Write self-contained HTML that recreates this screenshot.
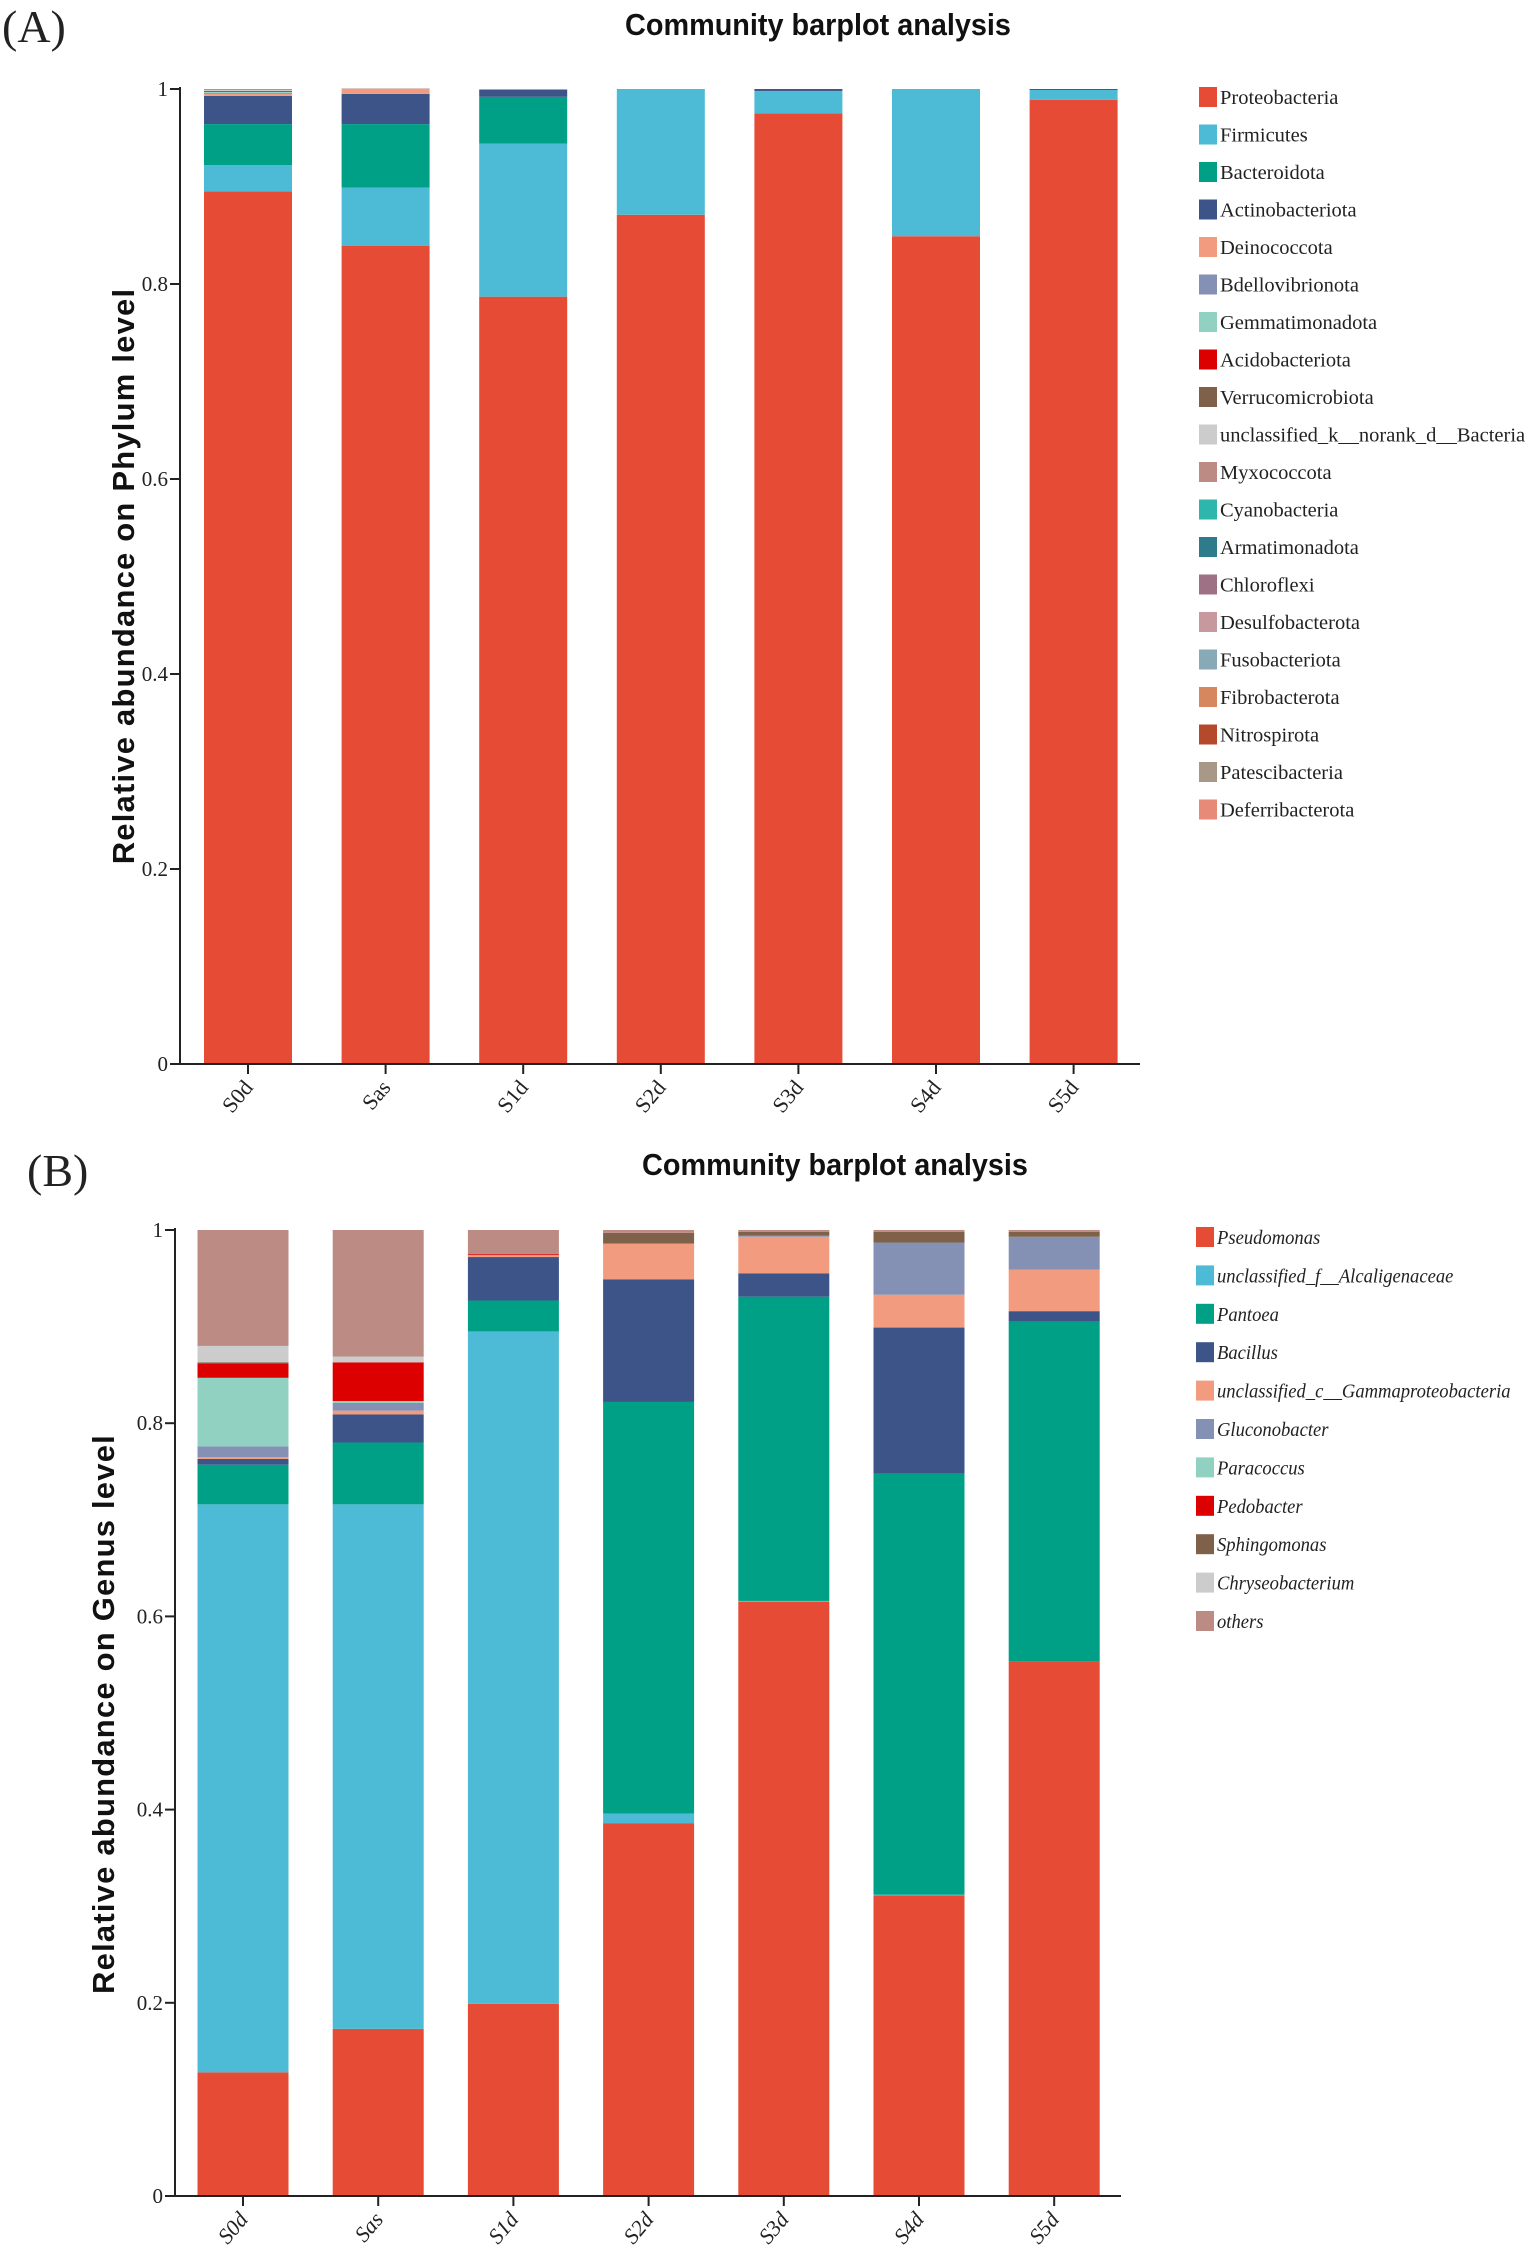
<!DOCTYPE html>
<html><head><meta charset="utf-8"><style>
html,body{margin:0;padding:0;background:#fff;}
svg{display:block;}
</style></head><body>
<svg id="fig" width="1535" height="2249" viewBox="0 0 1535 2249" xmlns="http://www.w3.org/2000/svg">
<text x="2" y="42" font-family="Liberation Serif, serif" font-size="46" fill="#222">(A)</text>
<text x="27" y="1186" font-family="Liberation Serif, serif" font-size="46" fill="#222">(B)</text>
</svg>
<script>
// ---------- Panel A data (Phylum) ----------
const samplesA = ["S0d","Sas","S1d","S2d","S3d","S4d","S5d"];
const phylumNames = ["Proteobacteria","Firmicutes","Bacteroidota","Actinobacteriota","Deinococcota","Bdellovibrionota","Gemmatimonadota","Acidobacteriota","Verrucomicrobiota","unclassified_k__norank_d__Bacteria","Myxococcota","Cyanobacteria","Armatimonadota","Chloroflexi","Desulfobacterota","Fusobacteriota","Fibrobacterota","Nitrospirota","Patescibacteria","Deferribacterota"];
const phylumColors = ["#E64B35","#4DBBD5","#00A087","#3C5488","#F39B7F","#8491B4","#91D1C2","#DC0000","#7E6148","#CCCCCC","#BC8B83","#2EB5AC","#2E7B8C","#9E7184","#C7989E","#88AAB6","#D6875E","#B5492C","#A89888","#E88A78"];
const proteobacteria = [0.895,0.839,0.787,0.871,0.975,0.849,0.989];
const firmicutes     = [0.027,0.060,0.157,0.129,0.023,0.151,0.010];
const bacteroidota   = [0.042,0.065,0.048,0,0,0,0];
const actinobacteriota=[0.029,0.031,0.007,0,0.002,0,0.001];
const deinococcota   = [0.002,0.004,0.0005,0,0,0,0];
const bdellovibrionota=[0.001,0.0005,0,0,0,0,0];
const gemmatimonadota= [0.001,0,0,0,0,0,0];
const acidobacteriota= [0.0005,0,0,0,0,0,0];
const verrucomicrobiota=[0.0005,0,0,0,0,0,0];
const unclassifiedBacteria=[0.001,0.0005,0,0,0,0,0];
const myxococcota    = [0.001,0.0005,0.0005,0,0,0,0];
const zeros = [0,0,0,0,0,0,0];
const phylumSeries = [proteobacteria,firmicutes,bacteroidota,actinobacteriota,deinococcota,bdellovibrionota,gemmatimonadota,acidobacteriota,verrucomicrobiota,unclassifiedBacteria,myxococcota,zeros,zeros,zeros,zeros,zeros,zeros,zeros,zeros,zeros];
const yTicks = [0,0.2,0.4,0.6,0.8,1];
const yTickLabels = ["0","0.2","0.4","0.6","0.8","1"];

// ---------- Panel B data (Genus) ----------
const samplesB = ["S0d","Sas","S1d","S2d","S3d","S4d","S5d"];
const genusNames = ["Pseudomonas","unclassified_f__Alcaligenaceae","Pantoea","Bacillus","unclassified_c__Gammaproteobacteria","Gluconobacter","Paracoccus","Pedobacter","Sphingomonas","Chryseobacterium","others"];
const genusColors = ["#E64B35","#4DBBD5","#00A087","#3C5488","#F39B7F","#8491B4","#91D1C2","#DC0000","#7E6148","#CCCCCC","#BC8B83"];
const pseudomonas   = [0.128,0.173,0.199,0.386,0.615,0.311,0.553];
const alcaligenaceae= [0.588,0.543,0.696,0.010,0.001,0.001,0];
const pantoea       = [0.041,0.064,0.032,0.426,0.315,0.436,0.352];
const bacillus      = [0.006,0.029,0.045,0.127,0.024,0.151,0.011];
const gammaproteo   = [0.002,0.004,0.002,0.037,0.038,0.034,0.043];
const gluconobacter = [0.011,0.008,0,0,0.001,0.054,0.034];
const paracoccus    = [0.071,0.002,0,0,0,0,0];
const pedobacter    = [0.015,0.040,0.001,0,0,0,0];
const sphingomonas  = [0.001,0,0,0.011,0.004,0.011,0.005];
const chryseobacterium=[0.017,0.006,0,0,0,0,0];
const others        = [0.120,0.131,0.025,0.003,0.002,0.002,0.002];
const genusSeries = [pseudomonas,alcaligenaceae,pantoea,bacillus,gammaproteo,gluconobacter,paracoccus,pedobacter,sphingomonas,chryseobacterium,others];

const NS="http://www.w3.org/2000/svg";
const svg=document.getElementById('fig');
function el(tag,attrs,parent){const e=document.createElementNS(NS,tag);for(const k in attrs)e.setAttribute(k,attrs[k]);(parent||svg).appendChild(e);return e;}

function drawPanel(cfg){
  const g=el('g',{});
  
  
  const y=v=>cfg.y0-(cfg.y0-cfg.y1)*v;
  const x=i=>cfg.xc0+i*cfg.step;
  const t=el('text',{x:cfg.titleX,y:cfg.titleY,'text-anchor':'middle','font-family':'Liberation Sans, sans-serif','font-weight':'bold','font-size':31,fill:'#111',transform:`translate(${cfg.titleX},0) scale(0.93,1) translate(${-cfg.titleX},0)`},g);
  t.textContent='Community barplot analysis';
  
  
  cfg.samples.forEach((s,i)=>{
    let acc=0;
    cfg.series.forEach((ser,k)=>{
      const v=ser[i]; if(!v) return;
      const r=el('rect',{x:x(i)-cfg.bw/2,y:y(acc+v),width:cfg.bw,height:Math.max(0,y(acc)-y(acc+v)),fill:cfg.colors[k]},g);
      
      
      acc+=v;
    });
  });
  const ya=el('line',{x1:cfg.ax,y1:cfg.y1-2,x2:cfg.ax,y2:cfg.y0,stroke:'#222','stroke-width':2},g);
  
  
  const xa=el('line',{x1:cfg.ax-10,y1:cfg.y0,x2:cfg.axEnd,y2:cfg.y0,stroke:'#222','stroke-width':2},g);
  
  
  yTicks.forEach((v,i)=>{
    el('line',{x1:cfg.ax-10,y1:y(v),x2:cfg.ax,y2:y(v),stroke:'#222','stroke-width':2},g);
    const tl=el('text',{x:cfg.ax-12,y:y(v)+7,'text-anchor':'end','font-family':'Liberation Serif, serif','font-size':21,fill:'#222'},g);
    tl.textContent=yTickLabels[i];
    
    
  });
  cfg.samples.forEach((s,i)=>{
    el('line',{x1:x(i),y1:cfg.y0,x2:x(i),y2:cfg.y0+10,stroke:'#222','stroke-width':2},g);
    const xl=el('text',{x:x(i)+6,y:cfg.y0+24,'text-anchor':'end','font-family':'Liberation Serif, serif','font-size':22,'font-style':cfg.italicX?'italic':'normal',fill:'#222',transform:`rotate(-50 ${x(i)+6} ${cfg.y0+24})`},g);
    xl.textContent=s;
    
    
  });
  const yt=el('text',{x:0,y:0,'text-anchor':'middle','font-family':'Liberation Sans, sans-serif','font-weight':'bold','font-size':31,'letter-spacing':'1.2',fill:'#111',transform:`translate(${cfg.ytX},${cfg.ytY}) rotate(-90)`},g);
  yt.textContent=cfg.ytitle;
  
  
  cfg.names.forEach((n,k)=>{
    const cy=cfg.legY+k*cfg.legStep;
    const sw=el('rect',{x:cfg.legX,y:cy-10,width:18,height:20,fill:cfg.colors[k]},g);
    
    
    const tx=cfg.legX+21;
    const lt=el('text',{x:tx,y:cy+7,'font-family':'Liberation Serif, serif','font-size':cfg.legFont,'font-style':cfg.italicLeg?'italic':'normal',fill:'#222',transform:`translate(${tx},0) scale(${cfg.legScale},1) translate(${-tx},0)`},g);
    lt.textContent=n;
    
    
  });
}

drawPanel({name:'phylum-chart',samples:samplesA,series:phylumSeries,colors:phylumColors,names:phylumNames,
  y0:1064,y1:89,ax:180,axEnd:1140,xc0:248,step:137.6,bw:88,titleX:818,titleY:35,
  ytX:134,ytY:576,ytitle:'Relative abundance on Phylum level',legX:1199,legY:97,legStep:37.5,italicLeg:false,italicX:false,legFont:20.5,legScale:1});
drawPanel({name:'genus-chart',samples:samplesB,series:genusSeries,colors:genusColors,names:genusNames,
  y0:2196,y1:1230,ax:175,axEnd:1121,xc0:243,step:135.2,bw:91,titleX:835,titleY:1175,
  ytX:114,ytY:1714,ytitle:'Relative abundance on Genus level',legX:1196,legY:1237,legStep:38.4,italicLeg:true,italicX:true,legFont:20,legScale:0.93});
</script>
</body></html>
